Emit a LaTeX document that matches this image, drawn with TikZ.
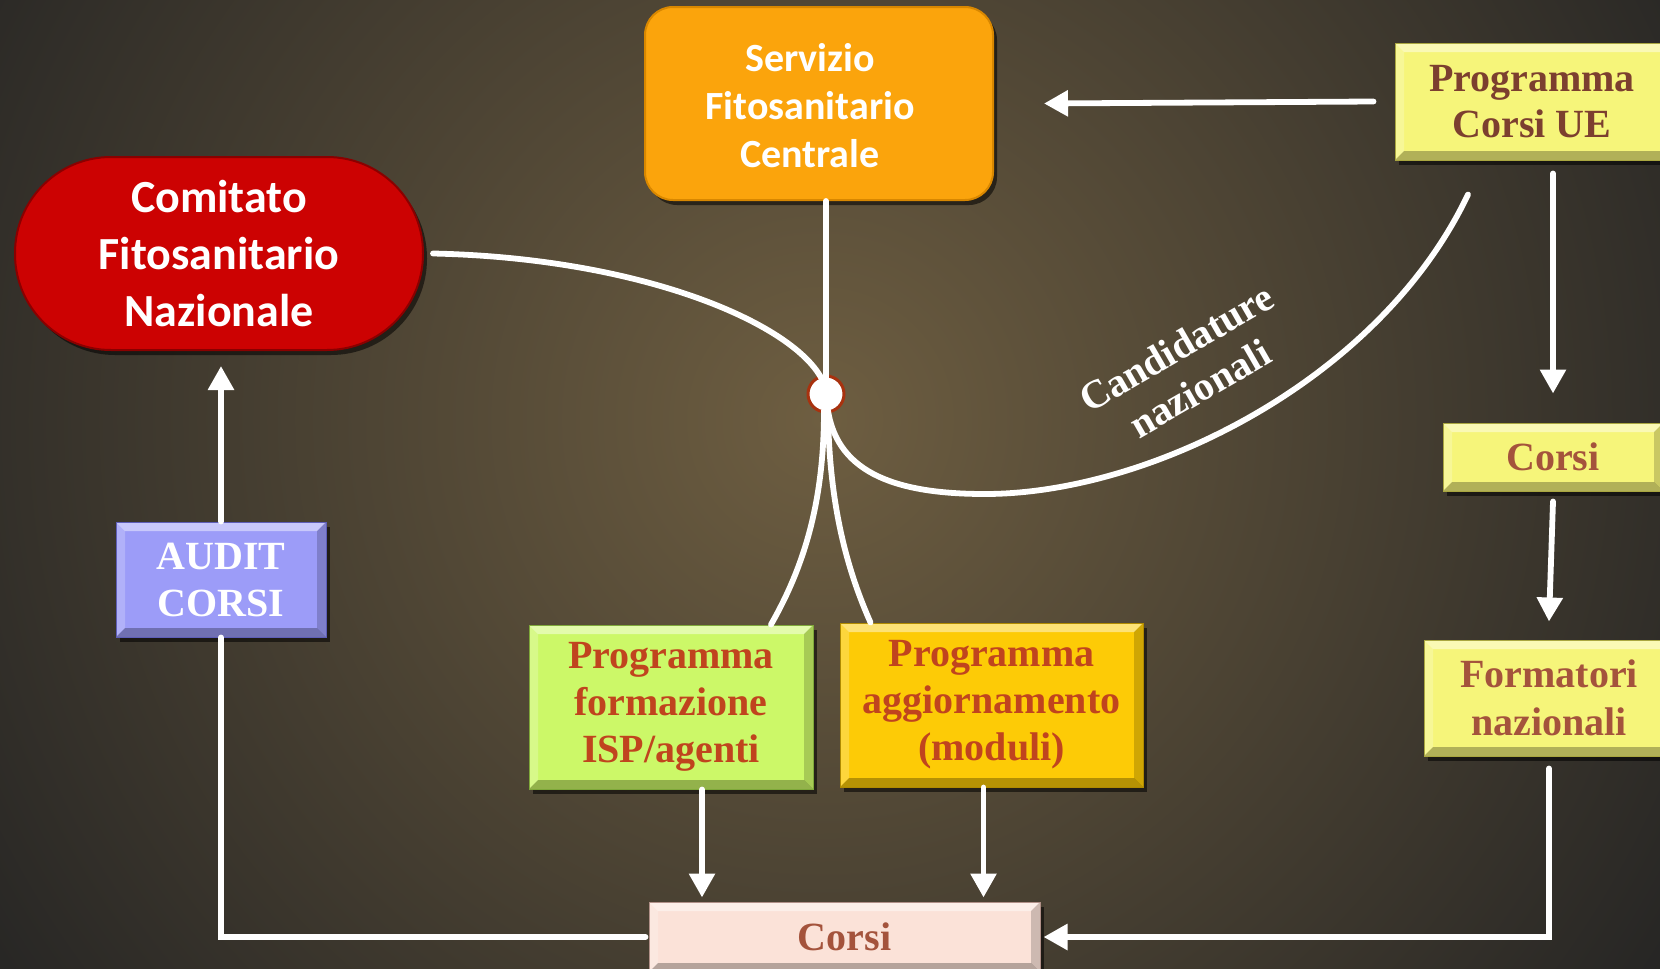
\documentclass[tikz,border=0pt]{standalone}
\usepackage{fontspec}
\setmainfont{Liberation Serif}
\newfontfamily\calfont{Carlito}
\usetikzlibrary{arrows.meta,calc,shadows}

\definecolor{bgdark}{HTML}{232323}
\definecolor{glow}{HTML}{6E5E41}
\definecolor{servfill}{HTML}{FBA40C}
\definecolor{servedge}{HTML}{D88700}
\definecolor{redfill}{HTML}{CC0202}
\definecolor{rededge}{HTML}{8A0000}
\definecolor{yelfill}{HTML}{F6F57A}
\definecolor{yeledge}{HTML}{A9A640}
\definecolor{brownA}{HTML}{7C3F2F}
\definecolor{brownB}{HTML}{A4533C}
\definecolor{greenfill}{HTML}{CCF868}
\definecolor{greenedge}{HTML}{7FA83A}
\definecolor{goldfill}{HTML}{FDCB06}
\definecolor{goldedge}{HTML}{B08A00}
\definecolor{redtext}{HTML}{C0441E}
\definecolor{pinkfill}{HTML}{FBE2D8}
\definecolor{pinkedge}{HTML}{B09088}
\definecolor{lavfill}{HTML}{9C9CF8}
\definecolor{lavedge}{HTML}{5E5EB8}
\definecolor{ring}{HTML}{A8320F}

\tikzset{
  ln/.style={draw=white, line width=5.8pt, line cap=round},
  arr/.style={ln, -{Triangle[length=24pt,width=25pt]}},
  shad/.style={drop shadow={shadow xshift=4pt, shadow yshift=-5pt, opacity=0.55, fill=black}},
  bevel/.style={path picture={
    \fill[white,opacity=.45] (path picture bounding box.north west) -- (path picture bounding box.north east)
       -- ([xshift=-9pt,yshift=-9pt]path picture bounding box.north east) -- ([xshift=9pt,yshift=-9pt]path picture bounding box.north west) -- cycle;
    \fill[white,opacity=.22] (path picture bounding box.north west) -- ([xshift=9pt,yshift=-9pt]path picture bounding box.north west)
       -- ([xshift=9pt,yshift=9pt]path picture bounding box.south west) -- (path picture bounding box.south west) -- cycle;
    \fill[black,opacity=.18] (path picture bounding box.north east) -- ([xshift=-9pt,yshift=-9pt]path picture bounding box.north east)
       -- ([xshift=-9pt,yshift=9pt]path picture bounding box.south east) -- (path picture bounding box.south east) -- cycle;
    \fill[black,opacity=.28] (path picture bounding box.south west) -- ([xshift=9pt,yshift=9pt]path picture bounding box.south west)
       -- ([xshift=-9pt,yshift=9pt]path picture bounding box.south east) -- (path picture bounding box.south east) -- cycle;
  }},
  sbox/.style={rectangle, align=center, inner sep=0pt, shad, bevel, line width=1pt,
    font=\bfseries\fontsize{40}{47}\selectfont},
  cbox/.style={align=center, inner sep=0pt, shad, line width=2pt, text=white}
}

\begin{document}
\begin{tikzpicture}[x=1pt,y=-1pt]
\useasboundingbox (0,0) rectangle (1660,969);
\clip (0,0) rectangle (1660,969);
\fill[bgdark] (0,0) rectangle (1660,969);
\shade[inner color=glow, outer color=bgdark] (-230,-630) rectangle (1870,1470);

% nodes
\node[cbox, fill=servfill, draw=servedge, rounded corners=28pt, minimum width=348pt, minimum height=193pt,
  font=\calfont\bfseries\fontsize{40}{48}\selectfont] (serv) at (819,103.5)
  {\raisebox{-6pt}[\height][\depth]{\begin{tabular}{@{}c@{\hspace{18pt}}}Servizio\\Fitosanitario\\Centrale\end{tabular}}};
\node[cbox, fill=redfill, draw=rededge, rounded corners=96pt, minimum width=408pt, minimum height=193pt,
  font=\calfont\bfseries\fontsize{46}{57}\selectfont] (cfn) at (219,253.5) {Comitato\\Fitosanitario\\Nazionale};
\node[sbox, fill=yelfill, draw=yeledge, text=brownA, minimum width=274pt, minimum height=117pt,
  font=\bfseries\fontsize{40}{46}\selectfont] (pcue) at (1532,101.5) {Programma\\Corsi UE};
\node[sbox, fill=yelfill, draw=yeledge, text=brownB, minimum width=220pt, minimum height=68pt] (corsiR) at (1553,457) {Corsi};
\node[sbox, fill=yelfill, draw=yeledge, text=brownB, minimum width=250pt, minimum height=116pt,
  font=\bfseries\fontsize{40}{48}\selectfont] (form) at (1549,698) {Formatori\\nazionali};
\node[sbox, fill=greenfill, draw=greenedge, text=redtext, minimum width=284pt, minimum height=164pt] (pfi) at (671,707) {Programma\\formazione\\ISP/agenti};
\node[sbox, fill=goldfill, draw=goldedge, text=redtext, minimum width=303pt, minimum height=164pt] (pag) at (991.5,705) {Programma\\aggiornamento\\(moduli)};
\node[sbox, fill=pinkfill, draw=pinkedge, text=brownB, minimum width=391pt, minimum height=70pt] (corsiB) at (844.5,937) {Corsi};
\node[sbox, fill=lavfill, draw=lavedge, text=white, minimum width=210pt, minimum height=115pt] (audit) at (221,579.5) {AUDIT\\CORSI};

\node[circle, fill=white, draw=ring, line width=3pt, minimum size=36pt, inner sep=0pt] (circ) at (826,394) {};

% connectors to the hub
\draw[ln] (circ |- serv.south) -- ([yshift=-4pt]circ.north);
\draw[ln] ([xshift=9pt]cfn.east) .. controls (640,258) and (790,322) .. ([xshift=-5pt,yshift=-3pt]circ.north);
\draw[ln] ([xshift=2pt,yshift=3pt]circ.south) .. controls (838,475) and (900,494) .. (985,494)
  .. controls (1150,494) and (1380,380) .. ($(pcue.south)+(-64,34)$);
\draw[ln] ([xshift=-2pt,yshift=3pt]circ.south) .. controls (824,500) and (805,565) .. ([xshift=100pt]pfi.north);
\draw[ln] ([xshift=2pt,yshift=3pt]circ.south) .. controls (829,500) and (845,565) .. ([xshift=-121pt]pag.north);

\node[text=white, rotate=30, align=center, font=\bfseries\fontsize{40}{47}\selectfont] (cand) at (1188,368) {Candidature\\nazionali};

% arrows
\draw[arr] ([xshift=-21pt]pcue.west) -- ([xshift=50pt]serv.east);
\draw[arr] ($(pcue.south -| corsiR.north)+(0,13)$) -- ($(corsiR.north)+(0,-29)$);
\draw[arr] ($(corsiR.south)+(0,10)$) -- ($(form.north)+(0,-18)$);
\draw[arr] ($(form.south)+(0,12)$) |- ([xshift=3pt]corsiB.east);
\draw[arr] ([xshift=31pt]pfi.south) -- ($([xshift=31pt]pfi.south |- corsiB.north)+(0,-4)$);
\draw[arr] ([xshift=-8pt]pag.south) -- ($([xshift=-8pt]pag.south |- corsiB.north)+(0,-4)$);
\draw[ln] ([xshift=-3pt]corsiB.west) -| (audit.south);
\draw[arr] (audit.north) -- ($(audit.north |- cfn.south)+(0,15)$);
\end{tikzpicture}
\end{document}
